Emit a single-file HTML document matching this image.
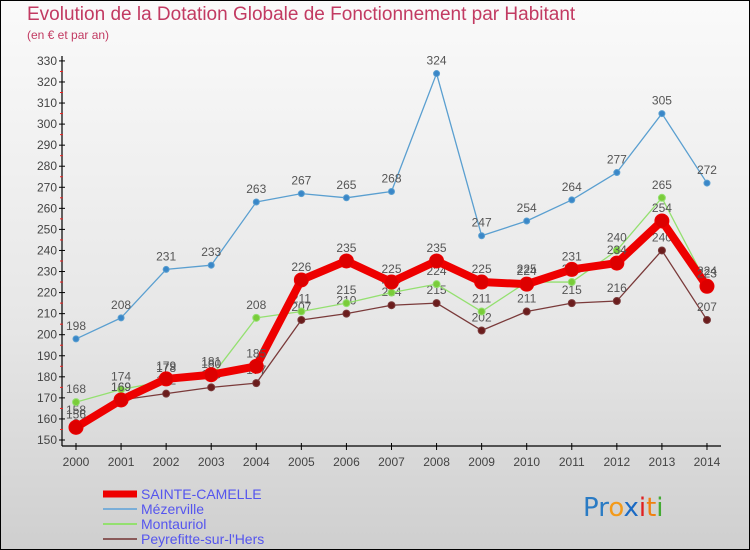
<!DOCTYPE html>
<html><head><meta charset="utf-8">
<style>
body{margin:0;}
#c{width:750px;height:550px;position:relative;box-sizing:border-box;border:1px solid #000;background:linear-gradient(#fafafa,#e6e6e6 60%,#cfcfcf);overflow:hidden;font-family:"Liberation Sans",sans-serif;}
.t{position:absolute;left:26px;top:3px;font-size:19px;color:#c23a62;}
.s{position:absolute;left:26px;top:27px;font-size:12px;color:#c23a62;}
svg{position:absolute;left:0;top:0;}
</style></head><body>
<div id="c">
<div class="t">Evolution de la Dotation Globale de Fonctionnement par Habitant</div>
<div class="s">(en € et par an)</div>
<svg id="g" width="750" height="550"></svg>
</div>
<script>
const years=[2000,2001,2002,2003,2004,2005,2006,2007,2008,2009,2010,2011,2012,2013,2014];
const sainteCamelle=[156,169,179,181,185,226,235,225,235,225,224,231,234,254,223];
const mezerville=[198,208,231,233,263,267,265,268,324,247,254,264,277,305,272];
const montauriol=[168,174,178,180,208,211,215,220,224,211,225,225,240,265,224];
const peyrefitte=[158,169,172,175,177,207,210,214,215,202,211,215,216,240,207];
const yTicks=[150,160,170,180,190,200,210,220,230,240,250,260,270,280,290,300,310,320,330];
const NS="http://www.w3.org/2000/svg";
const g=document.getElementById('g');
const X=i=>75+i*45.07;
const Y=v=>439-(v-150)*2.106;
function el(t,a,p){const e=document.createElementNS(NS,t);for(const k in a)e.setAttribute(k,a[k]);(p||g).appendChild(e);return e;}
// axes
let ax=el('line',{x1:61,y1:55,x2:61,y2:445,stroke:'#000','stroke-width':1.2});


let bx=el('line',{x1:61,y1:445,x2:720,y2:445,stroke:'#000','stroke-width':1.2});


yTicks.forEach(v=>{
 el('line',{x1:58,x2:64,y1:Y(v),y2:Y(v),stroke:'#000'});
 if(v<330)el('line',{x1:59,x2:62,y1:Y(v+5),y2:Y(v+5),stroke:'#e22'});
 const t=el('text',{x:56,y:Y(v)+4,'text-anchor':'end','font-size':12,fill:'#444'});t.textContent=v;
 
 
});
years.forEach((y,i)=>{
 el('line',{x1:X(i),x2:X(i),y1:442,y2:449,stroke:'#000'});
 const t=el('text',{x:X(i),y:465,'text-anchor':'middle','font-size':12,fill:'#444'});t.textContent=y;
 
 
});
function series(d,col,w,r,dot,name){
 const pts=d.map((v,i)=>X(i)+','+Y(v)).join(' ');
 const pl=el('polyline',{points:pts,fill:'none',stroke:col,'stroke-width':w,'stroke-linejoin':'round'});
 
 
 d.forEach((v,i)=>{
  const c=el('circle',{cx:X(i),cy:Y(v),r:r,fill:dot,stroke:col,'stroke-width':1});
  
  
  const t=el('text',{x:X(i),y:Y(v)-9,'text-anchor':'middle','font-size':12,fill:'#555'});t.textContent=v;
  
  
 });
}
series(mezerville,'#5a9fd0',1.3,3,'#3a87c8','mezerville');
series(peyrefitte,'#7a3a3a',1.3,3.5,'#6b1d1d','peyrefitte');
series(montauriol,'#94e070',1.3,3.5,'#7acc3a','montauriol');
series(sainteCamelle,'#ee0000',8,7,'#dd0000','sainte-camelle');
// legend
const L=[['SAINTE-CAMELLE','#ee0000',7],['Mézerville','#7aaed8',2],['Montauriol','#94e070',2],['Peyrefitte-sur-l\'Hers','#8a5a5a',2]];
L.forEach((l,i)=>{
 const y=493+i*15;
 const ln=el('line',{x1:102,x2:136,y1:y,y2:y,stroke:l[1],'stroke-width':l[2]});
 
 
 const t=el('text',{x:140,y:y+5,'font-size':14,fill:'#5555ee'});t.textContent=l[0];
 
 
});
const lg=el('text',{x:582,y:515,'font-size':26,'font-family':'DejaVu Sans, sans-serif'});


[['Pr','#2a7bc4'],['o','#f39a1a'],['x','#1a6ac4'],['i','#e02020'],['t','#f08010'],['i','#44aa33']].forEach(p=>{const s=el('tspan',{fill:p[1]},lg);s.textContent=p[0];});
</script>
</body></html>
